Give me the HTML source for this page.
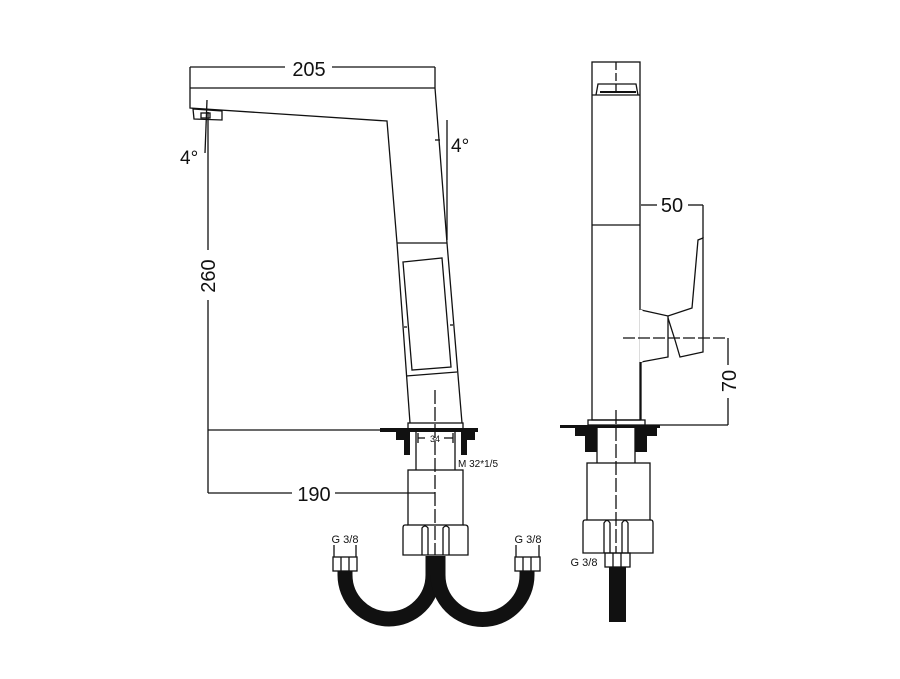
<!DOCTYPE html>
<html><head><meta charset="utf-8"><style>
html,body{margin:0;padding:0;background:#fff;}
svg{display:block;}
text{font-family:"Liberation Sans",sans-serif;fill:#111;}
</style></head><body>
<svg width="900" height="679" viewBox="0 0 900 679" xmlns="http://www.w3.org/2000/svg">
<g fill="none" stroke="#111" stroke-width="1.3">
<line x1="190" y1="67" x2="285" y2="67"/><line x1="332" y1="67" x2="435" y2="67"/>
<line x1="435" y1="67" x2="435" y2="88"/>
<polyline points="190,67 190,108 387,121 397,243 410,423"/>
<line x1="190" y1="88" x2="435" y2="88"/>
<polyline points="435,88 447,243 462,423"/>
<line x1="397" y1="243" x2="447" y2="243"/>
<polygon points="193,109 222,111 222,120 194,119"/>
<rect x="201" y="113" width="9" height="5"/>
<polygon points="403,262 442,258 451,367 412,370"/>
<line x1="406" y1="376" x2="457" y2="372"/>
<line x1="404" y1="327" x2="407" y2="327"/><line x1="450" y1="325" x2="453" y2="325"/>
<rect x="408" y="423" width="55" height="7"/>
<line x1="207" y1="100" x2="205" y2="153"/>
<line x1="447" y1="120" x2="447" y2="240"/>
<line x1="435" y1="140" x2="440" y2="140"/>
<line x1="208" y1="112" x2="208" y2="250"/><line x1="208" y1="300" x2="208" y2="493"/>
<line x1="208" y1="430" x2="380" y2="430"/>
<line x1="208" y1="493" x2="292" y2="493"/><line x1="335" y1="493" x2="435" y2="493"/>
<line x1="416" y1="430" x2="416" y2="470"/><line x1="455" y1="430" x2="455" y2="470"/>
<line x1="418" y1="438" x2="425" y2="438"/><line x1="444" y1="438" x2="453" y2="438"/>
<line x1="418" y1="433" x2="418" y2="443"/><line x1="453" y1="433" x2="453" y2="443"/>
<rect x="408" y="470" width="55" height="55"/>
<path d="M408,525 L405,525 Q403,525 403,528 L403,555 L468,555 L468,528 Q468,525 465,525 L463,525"/>
<path d="M422,555 L422,528 Q425,524 428,528 L428,555"/>
<path d="M443,555 L443,528 Q446,524 449,528 L449,555"/>
<line x1="435" y1="390" x2="435" y2="555" stroke-dasharray="14,3"/>
<rect x="333" y="557" width="24" height="14"/><line x1="341" y1="557" x2="341" y2="571"/><line x1="349" y1="557" x2="349" y2="571"/>
<line x1="334" y1="545" x2="334" y2="557"/><line x1="356" y1="545" x2="356" y2="557"/>
<rect x="515" y="557" width="25" height="14"/><line x1="523" y1="557" x2="523" y2="571"/><line x1="531" y1="557" x2="531" y2="571"/>
<line x1="516" y1="545" x2="516" y2="557"/><line x1="539" y1="545" x2="539" y2="557"/>

<rect x="592" y="62" width="48" height="358"/>
<line x1="592" y1="95" x2="640" y2="95"/>
<path d="M596,95 L598,84 L636,84 L638,95"/>
<line x1="600" y1="92" x2="636" y2="92" stroke-width="2"/>
<line x1="592" y1="225" x2="640" y2="225"/>
<line x1="616" y1="62" x2="616" y2="95" stroke-dasharray="8,3"/>
<polyline points="641,310 668,316 692,308 698,240 703,238 703,352 680,357 675,340 668,318"/>
<polyline points="668,316 668,357 641,362"/>
<line x1="641" y1="310" x2="641" y2="362" stroke="#fff" stroke-width="3"/>
<line x1="641" y1="362" x2="641" y2="420"/>
<line x1="641" y1="205" x2="657" y2="205"/><line x1="688" y1="205" x2="703" y2="205"/>
<line x1="703" y1="205" x2="703" y2="238"/>
<line x1="623" y1="338" x2="728" y2="338" stroke-dasharray="12,3"/>
<line x1="728" y1="338" x2="728" y2="365"/><line x1="728" y1="398" x2="728" y2="425"/>
<line x1="645" y1="425" x2="728" y2="425"/>
<rect x="588" y="420" width="57" height="5"/>
<line x1="597" y1="428" x2="597" y2="463"/><line x1="635" y1="428" x2="635" y2="463"/>
<rect x="587" y="463" width="63" height="57"/>
<path d="M587,520 L585,520 Q583,520 583,523 L583,553 L653,553 L653,523 Q653,520 651,520 L650,520"/>
<path d="M604,553 L604,523 Q607,518 610,523 L610,553"/>
<path d="M622,553 L622,523 Q625,518 628,523 L628,553"/>
<line x1="616" y1="410" x2="616" y2="553" stroke-dasharray="14,3"/>
<rect x="605" y="553" width="25" height="14"/><line x1="613" y1="553" x2="613" y2="567"/><line x1="621" y1="553" x2="621" y2="567"/>
</g>
<g fill="#111">
<rect x="380" y="428" width="98" height="4"/>
<path d="M396,432 L410,432 L410,455 L404,455 L404,440 L396,440 Z"/>
<path d="M461,432 L475,432 L475,440 L467,440 L467,455 L461,455 Z"/>
<rect x="560" y="425" width="100" height="3"/>
<path d="M575,428 L597,428 L597,452 L585,452 L585,436 L575,436 Z"/>
<path d="M635,428 L657,428 L657,436 L647,436 L647,452 L635,452 Z"/>
<rect x="609" y="567" width="17" height="55"/>
</g>
<g fill="none" stroke="#111" stroke-width="15">
<path d="M345,571 L345,575 A44,44 0 0 0 433,575 L433,556"/>
<path d="M438,556 L438,575 A44.5,44.5 0 0 0 527,575 L527,571"/>
</g>
<text x="309" y="76" font-size="20" text-anchor="middle">205</text>
<text x="180" y="164" font-size="19">4°</text>
<text x="451" y="152" font-size="19">4°</text>
<text transform="translate(215,276) rotate(-90)" font-size="20" text-anchor="middle">260</text>
<text x="314" y="501" font-size="20" text-anchor="middle">190</text>
<text x="435" y="442" font-size="9" text-anchor="middle">34</text>
<text x="458" y="467" font-size="10">M 32*1/5</text>
<text x="345" y="543" font-size="11" text-anchor="middle">G 3/8</text>
<text x="528" y="543" font-size="11" text-anchor="middle">G 3/8</text>
<text x="672" y="212" font-size="20" text-anchor="middle">50</text>
<text transform="translate(736,381) rotate(-90)" font-size="20" text-anchor="middle">70</text>
<text x="584" y="566" font-size="11" text-anchor="middle">G 3/8</text>
</svg>
</body></html>
